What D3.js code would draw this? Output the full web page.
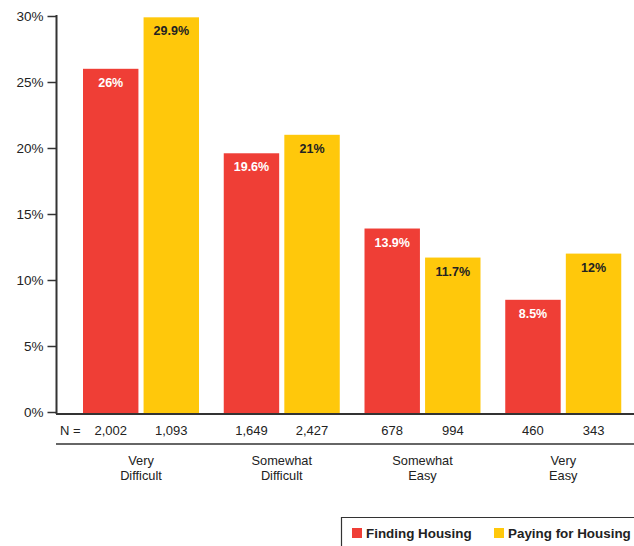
<!DOCTYPE html>
<html>
<head>
<meta charset="utf-8">
<script src="https://cdn.jsdelivr.net/npm/d3@7"></script>
<style>
  html, body { margin: 0; padding: 0; background: #fff; }
  svg { display: block; font-family: "Liberation Sans", Arial, Helvetica, sans-serif; }
</style>
</head>
<body>
<svg id="chart" width="634" height="546"></svg>
<script>
// Survey responses: how difficult was it to find / pay for housing
const categories = [["Very", "Difficult"], ["Somewhat", "Difficult"], ["Somewhat", "Easy"], ["Very", "Easy"]];
const seriesNames = ["Finding Housing", "Paying for Housing"];
const findingValues = [26, 19.6, 13.9, 8.5];
const payingValues = [29.9, 21, 11.7, 12];
const findingN = ["2,002", "1,649", "678", "460"];
const payingN = ["1,093", "2,427", "994", "343"];
const yTicks = [0, 5, 10, 15, 20, 25, 30];

const colors = ["#EF3E36", "#FFC80B"];
const labelColors = ["#ffffff", "#222222"];

const svg = d3.select("#chart");
const W = 634;

const x0 = d3.scaleBand()
  .domain(d3.range(categories.length))
  .range([70, 633])
  .paddingInner(0.0)
  .paddingOuter(0.0);

const x1 = d3.scaleBand()
  .domain([0, 1])
  .range([13, 129])
  .paddingInner(0.085);

const y = d3.scaleLinear().domain([0, 30]).range([412, 16]);

// y axis
const yAxis = d3.axisLeft(y)
  .tickValues(yTicks)
  .tickFormat(d => d + "%")
  .tickSize(9)
  .tickPadding(4);

const gy = svg.append("g").attr("transform", "translate(56.5,0)").call(yAxis);
gy.select(".domain").attr("stroke", "#333").attr("stroke-width", 2)
  .attr("d", "M0,15V414");
gy.selectAll(".tick line").attr("stroke", "#333").attr("stroke-width", 1.5);
gy.selectAll(".tick text").attr("fill", "#222").attr("font-size", 13.5).attr("dy", "0.36em");

// bars
const series = [findingValues, payingValues];
const nLabels = [findingN, payingN];

categories.forEach((cat, i) => {
  const g = svg.append("g").attr("transform", `translate(${x0(i)},0)`);
  series.forEach((vals, s) => {
    const bx = x1(s), bw = x1.bandwidth();
    g.append("rect")
      .attr("x", bx).attr("y", y(vals[i]))
      .attr("width", bw).attr("height", y(0) - y(vals[i]) + 1)
      .attr("fill", colors[s]);
    g.append("text")
      .attr("x", bx + bw / 2).attr("y", y(vals[i]) + 18)
      .attr("text-anchor", "middle")
      .attr("font-size", 12.5).attr("font-weight", "bold")
      .attr("fill", labelColors[s])
      .text(vals[i] + "%");
    g.append("text")
      .attr("x", bx + bw / 2).attr("y", 435)
      .attr("text-anchor", "middle")
      .attr("font-size", 13).attr("fill", "#222")
      .text(nLabels[s][i]);
  });
  const mid = x1(0) + (x1(1) + x1.bandwidth() - x1(0)) / 2;
  g.append("text")
    .attr("x", mid).attr("y", 464.5)
    .attr("text-anchor", "middle")
    .attr("font-size", 12.8).attr("fill", "#222")
    .selectAll("tspan").data(cat).join("tspan")
    .attr("x", mid).attr("dy", (d, k) => k === 0 ? 0 : 15)
    .text(d => d);
});

// baseline and separator
svg.append("line").attr("x1", 56).attr("x2", W).attr("y1", 414).attr("y2", 414)
  .attr("stroke", "#333").attr("stroke-width", 2);
svg.append("line").attr("x1", 56).attr("x2", W).attr("y1", 444).attr("y2", 444)
  .attr("stroke", "#333").attr("stroke-width", 1.5);

svg.append("text").attr("x", 60).attr("y", 435)
  .attr("font-size", 13).attr("fill", "#222").text("N =");

// legend
const lg = svg.append("g");
lg.append("path").attr("d", `M${W},517.5H341.5V546`)
  .attr("fill", "none").attr("stroke", "#333").attr("stroke-width", 1.2);
const legendX = [352, 494];
seriesNames.forEach((name, s) => {
  lg.append("rect").attr("x", legendX[s]).attr("y", 528)
    .attr("width", 10).attr("height", 10).attr("fill", colors[s]);
  lg.append("text").attr("x", legendX[s] + 14).attr("y", 538)
    .attr("font-size", 13.4).attr("font-weight", "bold").attr("fill", "#222")
    .text(name);
});
</script>
</body>
</html>
